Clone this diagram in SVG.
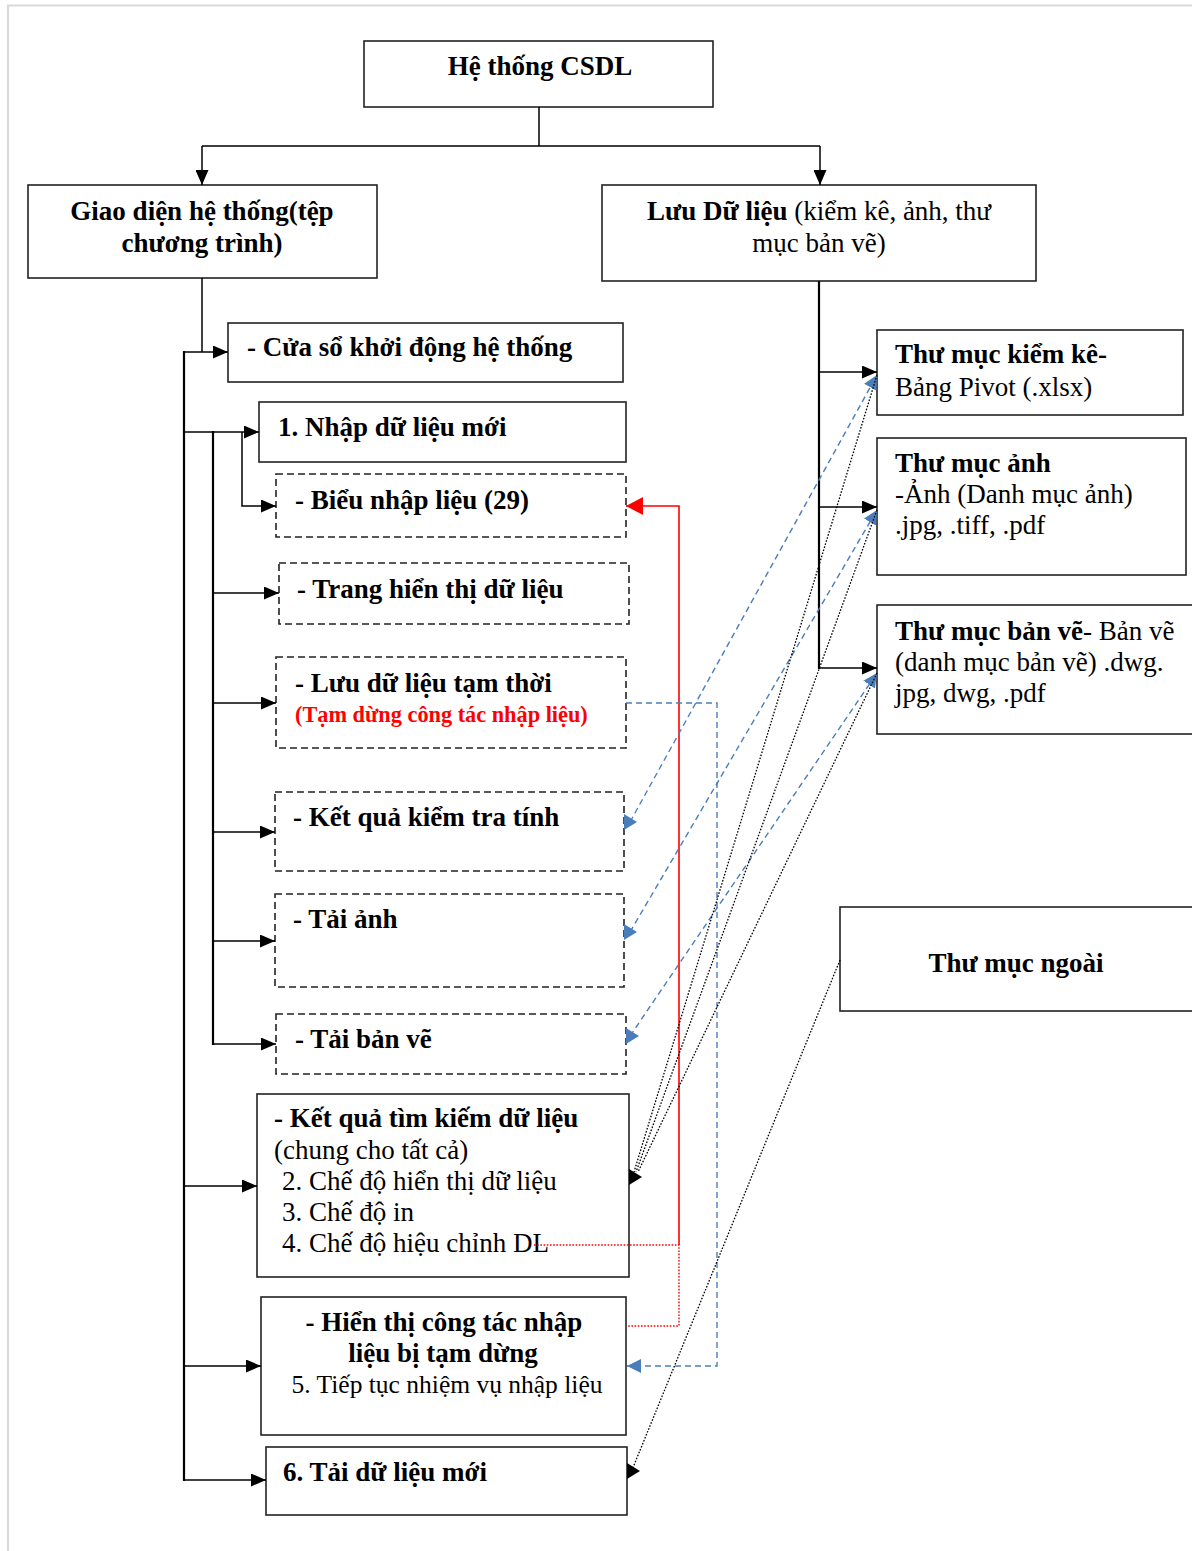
<svg xmlns="http://www.w3.org/2000/svg" width="1192" height="1551" viewBox="0 0 1192 1551">
<style>
text{font-family:"Liberation Serif","Times New Roman",serif;font-size:27px;fill:#000}
.b{font-weight:bold}
.m{text-anchor:middle}
.s{font-size:25.5px}
.red{fill:#ff0000;font-size:22.3px;font-weight:bold}
.box{fill:#fff;stroke:#222;stroke-width:1.6}
.dbox{fill:#fff;stroke:#222;stroke-width:1.6;stroke-dasharray:7 4}
.ln{fill:none;stroke:#000;stroke-width:1.5}
.tr{fill:none;stroke:#000;stroke-width:2.2}
.dot{fill:none;stroke:#000;stroke-width:1.3;stroke-dasharray:1.6 1.6}
.bl{fill:none;stroke:#4a7ebb;stroke-width:1.4;stroke-dasharray:6 4}
.rd{fill:none;stroke:#ff0000;stroke-width:1.6}
.rdot{fill:none;stroke:#ff0000;stroke-width:1.4;stroke-dasharray:1.6 1.6}
</style>
<defs>
<marker id="ah" markerUnits="userSpaceOnUse" markerWidth="16" markerHeight="13" refX="15" refY="6.5" orient="auto"><path d="M0,0 L15,6.5 L0,13 z" fill="#000"/></marker>
<marker id="ahb" markerUnits="userSpaceOnUse" markerWidth="15" markerHeight="14" refX="14" refY="7" orient="auto"><path d="M0,0 L14,7 L0,14 z" fill="#4a7ebb"/></marker>
<marker id="ahr" markerUnits="userSpaceOnUse" markerWidth="18" markerHeight="18" refX="17" refY="9" orient="auto"><path d="M0,0 L17,9 L0,18 z" fill="#ff0000"/></marker>
<path id="tk" d="M0,-8 L13,0 L0,8 z" fill="#000"/>
<path id="tb" d="M0,-8 L13,0 L0,8 z" fill="#4a7ebb"/>
</defs>
<g id="frame" fill="none" stroke="#d9d9d9" stroke-width="2.2">
<path d="M8,1551 L8,5.5 L1192,5.5"/>
</g>
<g id="n-root"><rect class="box" x="364" y="41" width="349" height="66"/><text class="b m" x="540" y="75">Hệ thống CSDL</text></g>
<g id="n-giaodien"><rect class="box" x="28" y="185" width="349" height="93"/><text class="b m" x="202" y="220">Giao diện hệ thống(tệp</text><text class="b m" x="202" y="252">chương trình)</text></g>
<g id="n-luudl"><rect class="box" x="602" y="185" width="434" height="96"/><text class="m" x="819" y="220"><tspan class="b">Lưu Dữ liệu</tspan> (kiểm kê, ảnh, thư</text><text class="m" x="819" y="252">mục bản vẽ)</text></g>
<g id="n-cuaso"><rect class="box" x="228" y="323" width="395" height="59"/><text class="b" x="247" y="356">- Cửa sổ khởi động hệ thống</text></g>
<g id="n-nhapmoi"><rect class="box" x="259" y="402" width="367" height="60"/><text class="b" x="278" y="436">1. Nhập dữ liệu mới</text></g>
<g id="n-bieu"><rect class="dbox" x="276" y="474" width="350" height="63"/><text class="b" x="295" y="509">- Biểu nhập liệu (29)</text></g>
<g id="n-trang"><rect class="dbox" x="279" y="563" width="350" height="61"/><text class="b" x="297" y="598">- Trang hiển thị dữ liệu</text></g>
<g id="n-luutam"><rect class="dbox" x="276" y="657" width="350" height="91"/><text class="b" x="295" y="692">- Lưu dữ liệu tạm thời</text><text class="red" x="295" y="722">(Tạm dừng công tác nhập liệu)</text></g>
<g id="n-kiemtra"><rect class="dbox" x="275" y="792" width="349" height="79"/><text class="b" x="293" y="826">- Kết quả kiểm tra tính</text></g>
<g id="n-taianh"><rect class="dbox" x="275" y="894" width="349" height="93"/><text class="b" x="293" y="928">- Tải ảnh</text></g>
<g id="n-taibanve"><rect class="dbox" x="276" y="1014" width="350" height="60"/><text class="b" x="295" y="1048">- Tải bản vẽ</text></g>
<g id="n-timkiem"><rect class="box" x="257" y="1094" width="372" height="183"/><text class="b" x="274" y="1127">- Kết quả tìm kiếm dữ liệu</text><text x="274" y="1159">(chung cho tất cả)</text><text x="282" y="1190">2. Chế độ hiển thị dữ liệu</text><text x="282" y="1221">3. Chế độ in</text><text x="282" y="1252">4. Chế độ hiệu chỉnh DL</text></g>
<g id="n-hienthi"><rect class="box" x="261" y="1297" width="365" height="138"/><text class="b m" x="444" y="1331">- Hiển thị công tác nhập</text><text class="b m" x="443" y="1362">liệu bị tạm dừng</text><text class="m s" x="447" y="1393">5. Tiếp tục nhiệm vụ nhập liệu</text></g>
<g id="n-taimoi"><rect class="box" x="266" y="1447" width="361" height="68"/><text class="b" x="283" y="1481">6. Tải dữ liệu mới</text></g>
<g id="n-tmkiemke"><rect class="box" x="877" y="330" width="306" height="85"/><text class="b" x="895" y="363">Thư mục kiểm kê-</text><text x="895" y="396">Bảng Pivot (.xlsx)</text></g>
<g id="n-tmanh"><rect class="box" x="877" y="438" width="309" height="137"/><text class="b" x="895" y="472">Thư mục ảnh</text><text x="895" y="503">-Ảnh (Danh mục ảnh)</text><text x="895" y="534">.jpg, .tiff, .pdf</text></g>
<g id="n-tmbanve"><rect class="box" x="877" y="605" width="330" height="129"/><text x="895" y="640"><tspan class="b">Thư mục bản vẽ</tspan>- Bản vẽ</text><text x="895" y="671">(danh mục bản vẽ) .dwg.</text><text x="895" y="702">jpg, dwg, .pdf</text></g>
<g id="n-tmngoai"><rect class="box" x="840" y="907" width="370" height="104"/><text class="b m" x="1016" y="972">Thư mục ngoài</text></g>
<g id="connectors">
<path class="ln" d="M539,107 L539,146 M202,146 L820,146"/>
<path class="ln" d="M202,146 L202,185" marker-end="url(#ah)"/>
<path class="ln" d="M820,146 L820,185" marker-end="url(#ah)"/>
<path class="ln" d="M202,278 L202,352"/>
<path class="tr" d="M184,351 L184,1481"/>
<path class="ln" d="M184,352 L228,352" marker-end="url(#ah)"/>
<path class="ln" d="M184,432 L259,432" marker-end="url(#ah)"/>
<path class="tr" d="M213,431 L213,1045"/>
<path class="ln" d="M242,432 L242,506 L276,506" marker-end="url(#ah)"/>
<path class="ln" d="M213,593 L279,593" marker-end="url(#ah)"/>
<path class="ln" d="M213,703 L276,703" marker-end="url(#ah)"/>
<path class="ln" d="M213,832 L275,832" marker-end="url(#ah)"/>
<path class="ln" d="M213,941 L275,941" marker-end="url(#ah)"/>
<path class="ln" d="M213,1044 L276,1044" marker-end="url(#ah)"/>
<path class="ln" d="M184,1186 L257,1186" marker-end="url(#ah)"/>
<path class="ln" d="M184,1366 L261,1366" marker-end="url(#ah)"/>
<path class="ln" d="M184,1480 L266,1480" marker-end="url(#ah)"/>
<path class="tr" d="M819,281 L819,669"/>
<path class="ln" d="M819,372 L877,372" marker-end="url(#ah)"/>
<path class="ln" d="M819,507 L877,507" marker-end="url(#ah)"/>
<path class="ln" d="M819,668 L877,668" marker-end="url(#ah)"/>
<path class="rd" d="M679,1245 L679,506 L626,506" marker-end="url(#ahr)"/>
<path class="rdot" d="M534,1245 L679,1245 L679,1326 L627,1326"/>
<path class="bl" d="M626,703 L717,703 L717,1366 L627,1366" marker-end="url(#ahb)"/>
<path class="bl" d="M630,822 L877,375" marker-end="url(#ahb)"/>
<path class="bl" d="M630,932 L877,510" marker-end="url(#ahb)"/>
<path class="bl" d="M630,1036 L877,673" marker-end="url(#ahb)"/>
<use href="#tb" x="624" y="822"/>
<use href="#tb" x="624" y="932"/>
<use href="#tb" x="626" y="1036"/>
<path class="dot" d="M877,375 L634,1172"/>
<path class="dot" d="M877,510 L636,1172"/>
<path class="dot" d="M877,673 L638,1172"/>
<path class="dot" d="M840,960 L632,1470"/>
<use href="#tk" x="629" y="1177"/>
<use href="#tk" x="627" y="1471"/>
</g>
</svg>
